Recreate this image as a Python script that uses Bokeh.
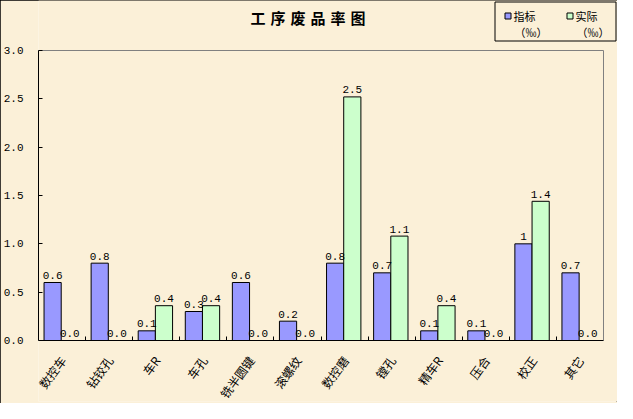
from bokeh.plotting import figure
from bokeh.models import Range1d, FixedTicker, NumeralTickFormatter
from bokeh.embed import file_html
from bokeh.resources import INLINE
from bokeh.core.properties import value

# ---------------- data ----------------
categories = ["数控车", "钻铰孔", "车R", "车孔", "铣半圆键", "滚螺纹",
              "数控磨", "镗孔", "精车R", "压合", "校正", "其它"]
target = [0.6, 0.8, 0.1, 0.3, 0.6, 0.2, 0.8, 0.7, 0.1, 0.1, 1.0, 0.7]
actual = [0.0, 0.0, 0.36, 0.36, 0.0, 0.0, 2.52, 1.08, 0.36, 0.0, 1.44, 0.0]
series_names = ["指标", "实际"]
unit_text = "（‰）"
title_text = "\u2004".join("工序废品率图")
y_ticks = [0.0, 0.5, 1.0, 1.5, 2.0, 2.5, 3.0]
Y_MAX = 3.0

# ---------------- layout (page pixels) ----------------
W, H, M = 617, 403, 8
PAGE_R, PAGE_B = M + W, M + H
FL, FR, FT, FB = 46, 611, 58, 348     # plot area edges
MB = 2                                # bottom border (x-axis panel)
N = len(categories)
XU = (FR - FL) / N                    # px per category
YU = (FB - FT) / Y_MAX                # px per unit
BG = "#FBF0D8"
BLUE = "#9999FF"
GREEN = "#CCFFCC"
FONT_CJK = "Noto Sans CJK SC"
FONT_NUM = "Liberation Mono"


def X(px):
    return (px - FL) / XU - 0.5


def Y(py):
    return (FB - py) / YU


p = figure(width=W, height=H, output_backend="svg", toolbar_location=None,
           x_range=Range1d(-0.5, X(PAGE_R)), y_range=Range1d(Y(PAGE_B - MB), Y(M)),
           min_border_left=FL - M, min_border_right=0, min_border_top=0,
           min_border_bottom=MB,
           background_fill_color=BG, border_fill_color=BG, outline_line_color=None,
           styles={"outline": "1px solid black", "outline-offset": "-1px"})
p.xgrid.grid_line_color = None
p.ygrid.grid_line_color = None

# plot-area border (top and right, grey)
x_end = N - 0.5
p.segment(x0=[-0.5, x_end], y0=[Y_MAX, 0], x1=[x_end, x_end], y1=[Y_MAX, Y_MAX],
          line_color="#808080", line_width=1)

# bars
BAR_W = 0.365
OFF_B, OFF_G = -0.2, 0.165
xs_b = [i + OFF_B for i in range(N)]
xs_g = [i + OFF_G for i in range(N)]
p.vbar(x=xs_b, top=target, width=BAR_W, bottom=0, fill_color=BLUE,
       line_color="black", line_width=1)
p.vbar(x=xs_g, top=actual, width=BAR_W, bottom=0, fill_color=GREEN,
       line_color="black", line_width=1)

lab_b = [f"{v:g}" for v in target]
lab_g = [f"{v:.1f}" for v in actual]
common = dict(text_align="center", text_baseline="alphabetic", y_offset=-7,
              text_font=value(FONT_NUM), text_font_size="11px", text_color="black")
p.text(x=xs_b, y=target, text=lab_b, **common)
p.text(x=xs_g, y=actual, text=lab_g, **common)

# x axis: line at 0 with inward ticks at category boundaries
xa = p.xaxis[0]
xa.fixed_location = 0
xa.bounds = (-0.5, x_end)
xa.ticker = FixedTicker(ticks=[], minor_ticks=[i + 0.5 for i in range(N - 1)])
xa.minor_tick_in = 4
xa.minor_tick_out = 0
xa.minor_tick_line_color = "black"
xa.major_tick_line_color = None
xa.axis_line_color = "black"
xa.major_label_standoff = 0

# y axis
ya = p.yaxis[0]
ya.bounds = (0, Y_MAX)
ya.ticker = FixedTicker(ticks=y_ticks)
ya.formatter = NumeralTickFormatter(format="0.0")
ya.major_tick_in = 4
ya.major_tick_out = 0
ya.minor_tick_line_color = None
ya.axis_line_color = "black"
ya.major_label_standoff = 15
ya.major_label_text_font = FONT_NUM
ya.major_label_text_font_size = "11px"
ya.major_label_text_color = "black"

# category labels (rotated, below the axis)
LAB_DX = 0.5 / XU
p.text(x=[i + LAB_DX for i in range(N)], y=[Y(365)] * N, text=categories,
       angle=0.942, text_align="right", text_baseline="middle",
       text_font=value(FONT_CJK), text_font_size="12px", text_color="black")

# title
p.text(x=[X(258)], y=[Y(25)], text=[title_text], text_align="left", text_baseline="middle",
       text_font=value(FONT_CJK), text_font_size="15px", text_font_style="bold",
       text_color="black")

# legend
p.quad(left=[X(502.5)], right=[X(623.5)], top=[Y(9.5)], bottom=[Y(48.5)],
       fill_color=BG, line_color="black", line_width=1)
leg_sq = [512.5, 574.5]
leg_tx = [521, 583]
p.quad(left=[X(v) for v in leg_sq], right=[X(v + 6) for v in leg_sq],
       top=[Y(20.5)] * 2, bottom=[Y(26.5)] * 2,
       fill_color=[BLUE, GREEN], line_color="black", line_width=1)
p.text(x=[X(v) for v in leg_tx], y=[Y(23.5)] * 2, text=series_names, text_align="left",
       text_baseline="middle", text_font=value(FONT_CJK), text_font_size="11px",
       text_color="black")
p.text(x=[X(v + 1) for v in leg_tx], y=[Y(39.5)] * 2, text=[unit_text] * 2,
       text_align="left", text_baseline="middle", text_font=value(FONT_CJK),
       text_font_size="11px", text_color="black")

open("out.html", "w").write(file_html(p, INLINE))
